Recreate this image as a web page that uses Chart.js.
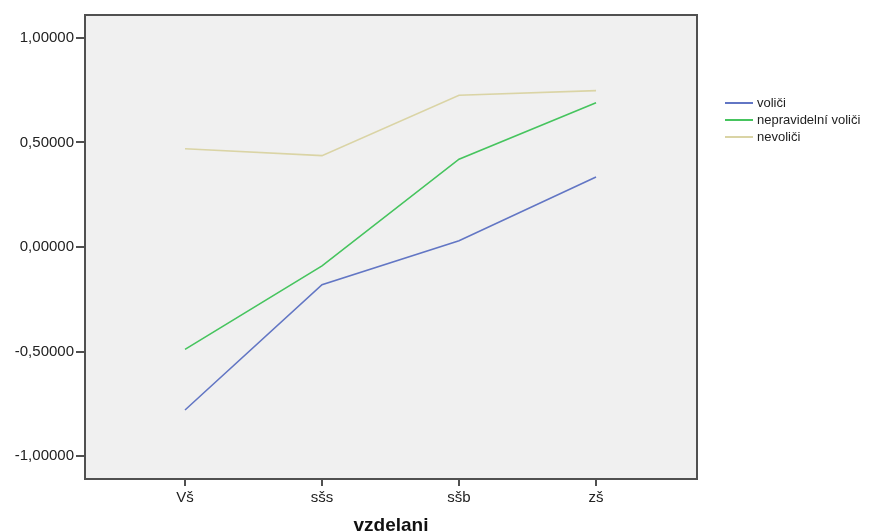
<!DOCTYPE html>
<html>
<head>
<meta charset="utf-8">
<script src="https://cdn.jsdelivr.net/npm/chart.js@4.4.1/dist/chart.umd.min.js"></script>
<style>
  html, body { margin: 0; padding: 0; background: #ffffff; }
  #wrap { width: 889px; height: 532px; }
</style>
</head>
<body>
<div id="wrap"><canvas id="myChart"></canvas></div>
<script>
// vzdelani kategorie
const kategorie = ['Vš', 'sšs', 'sšb', 'zš'];
// hodnoty
const volici = [-0.78, -0.18, 0.03, 0.335];
const nepravidelniVolici = [-0.49, -0.09, 0.42, 0.69];
const nevolici = [0.47, 0.437, 0.726, 0.748];
const yTicky = [-1, -0.5, 0, 0.5, 1];

const font = "'Liberation Sans', Arial, sans-serif";

function body(hodnoty){
    return hodnoty.map(function(v, i){ return {x: i, y: v}; });
}

const pozadi = {
    id: 'pozadi',
    beforeDraw(chart){
        const a = chart.chartArea;
        const ctx = chart.ctx;
        ctx.save();
        ctx.fillStyle = '#f0f0f0';
        ctx.fillRect(a.left, a.top, a.right - a.left, a.bottom - a.top);
        ctx.restore();
    },
    afterDraw(chart){
        const a = chart.chartArea;
        const ctx = chart.ctx;
        ctx.save();
        ctx.strokeStyle = '#505050';
        ctx.lineWidth = 2;
        ctx.strokeRect(a.left, a.top, a.right - a.left, a.bottom - a.top);
        ctx.restore();
    }
};

// legenda vpravo nahore
const legenda = {
    id: 'legenda',
    afterDraw(chart){
        const ctx = chart.ctx;
        ctx.save();
        ctx.font = '13px ' + font;
        ctx.textBaseline = 'middle';
        chart.data.datasets.forEach(function(ds, i){
            const y = 103 + i * 17;
            ctx.strokeStyle = ds.borderColor;
            ctx.lineWidth = 2;
            ctx.beginPath();
            ctx.moveTo(725, y);
            ctx.lineTo(753, y);
            ctx.stroke();
            ctx.fillStyle = '#222222';
            ctx.fillText(ds.label, 757, y);
        });
        ctx.restore();
    }
};

const data = {
    datasets: [{
        label: 'voliči',
        data: body(volici),
        borderColor: 'rgb(98,118,196)',
        borderWidth: 1.6,
        pointRadius: 0,
        tension: 0
    }, {
        label: 'nepravidelní voliči',
        data: body(nepravidelniVolici),
        borderColor: 'rgb(70,196,94)',
        borderWidth: 1.6,
        pointRadius: 0,
        tension: 0
    }, {
        label: 'nevoliči',
        data: body(nevolici),
        borderColor: 'rgb(218,212,165)',
        borderWidth: 1.6,
        pointRadius: 0,
        tension: 0
    }]
};

const config = {
    type: 'line',
    data: data,
    options: {
        responsive: true,
        maintainAspectRatio: false,
        animation: false,
        layout: { padding: { top: 15, right: 192, left: 0, bottom: 0 } },
        plugins: { legend: { display: false }, tooltip: { enabled: false } },
        scales: {
            x: {
                type: 'linear',
                min: -0.73,
                max: 3.737,
                afterBuildTicks: function(scale){
                    scale.ticks = kategorie.map(function(k, i){ return {value: i}; });
                },
                afterFit: function(scale){ scale.height = 53; },
                grid: { drawOnChartArea: false, drawTicks: true, tickLength: 7, color: '#505050', lineWidth: 2 },
                border: { display: false },
                ticks: {
                    padding: 3,
                    color: '#222222',
                    font: { family: font, size: 15 },
                    callback: function(v){ return kategorie[v]; }
                },
                title: {
                    display: true,
                    text: 'vzdelani',
                    color: '#111111',
                    font: { family: font, size: 19, weight: 'bold', lineHeight: 1 },
                    padding: { top: 0, bottom: -3 }
                }
            },
            y: {
                min: -1.11,
                max: 1.11,
                afterBuildTicks: function(scale){
                    scale.ticks = yTicky.map(function(v){ return {value: v}; });
                },
                afterFit: function(scale){ scale.width = 85; },
                grid: { drawOnChartArea: false, drawTicks: true, tickLength: 9, color: '#505050', lineWidth: 2 },
                border: { display: false },
                ticks: {
                    padding: 2,
                    color: '#222222',
                    font: { family: font, size: 15 },
                    callback: function(v){ return v.toFixed(5).replace('.', ','); }
                }
            }
        }
    },
    plugins: [pozadi, legenda]
};

new Chart(document.getElementById('myChart'), config);
</script>
</body>
</html>
